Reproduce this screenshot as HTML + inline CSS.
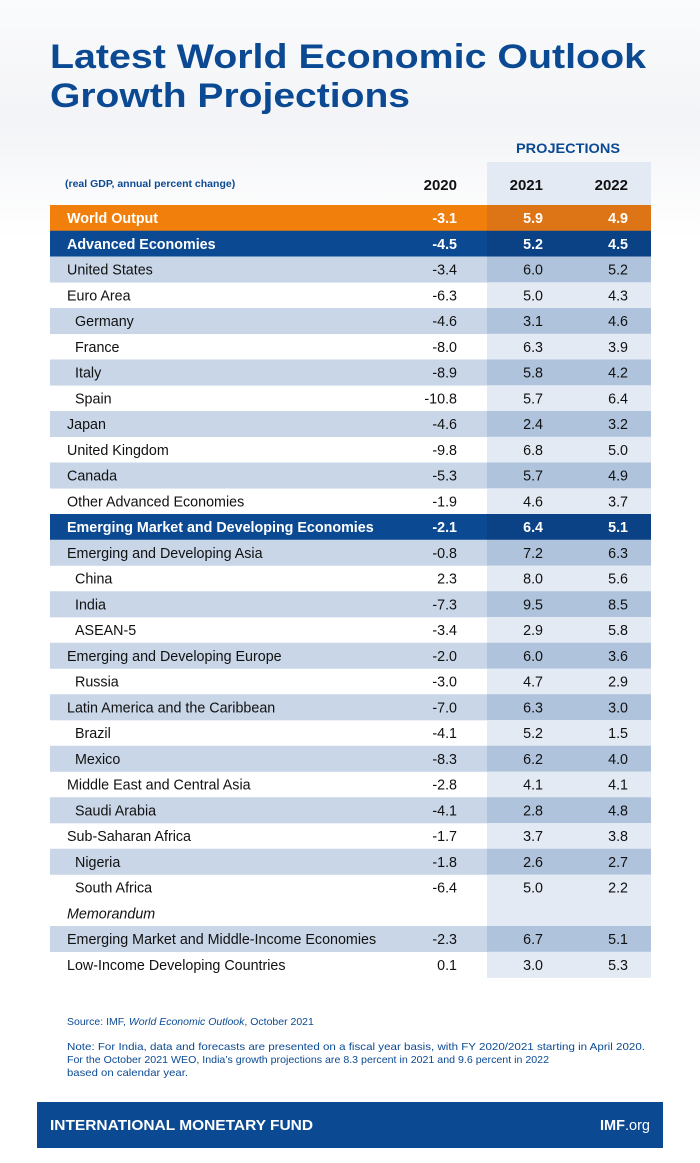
<!DOCTYPE html>
<html><head><meta charset="utf-8"><style>
html,body{margin:0;padding:0;background:#fff}
svg{display:block}
text{font-family:"Liberation Sans",Arial,sans-serif}
</style></head><body>
<svg width="700" height="1163" viewBox="0 0 700 1163" xmlns="http://www.w3.org/2000/svg">
<defs><linearGradient id="bg" x1="0" y1="0" x2="0" y2="1"><stop offset="0" stop-color="#fafbfc"/><stop offset="0.5" stop-color="#f3f4f7"/><stop offset="1" stop-color="#ffffff"/></linearGradient></defs>
<rect width="700" height="1163" fill="#fff"/>
<rect x="0" y="0" width="700" height="240" fill="url(#bg)"/>
<g fill="#0b4a93" font-weight="bold">
<text x="50" y="68" font-size="34" textLength="596" lengthAdjust="spacingAndGlyphs">Latest World Economic Outlook</text>
<text x="50" y="107" font-size="34" textLength="360" lengthAdjust="spacingAndGlyphs">Growth Projections</text>
</g>
<rect x="487" y="162" width="164" height="44" fill="#e3eaf3"/>
<text x="516" y="153" font-size="14" fill="#0b4a93" font-weight="bold" textLength="104" lengthAdjust="spacingAndGlyphs">PROJECTIONS</text>
<text x="65" y="187" font-size="10.5" fill="#0b4a93" font-weight="bold">(real GDP, annual percent change)</text>
<g font-size="15" font-weight="bold" fill="#111" text-anchor="end">
<text x="457" y="190">2020</text><text x="543" y="190">2021</text><text x="628" y="190">2022</text>
</g>
<g id="rows" font-size="14.3"></g>
<text x="67" y="1025" font-size="10.5" fill="#0b4a93">Source: IMF, <tspan font-style="italic">World Economic Outlook</tspan>, October 2021</text>
<g font-size="10.3" fill="#0b4a93">
<text x="67" y="1050" textLength="578" lengthAdjust="spacingAndGlyphs">Note: For India, data and forecasts are presented on a fiscal year basis, with FY 2020/2021 starting in April 2020.</text>
<text x="67" y="1063" textLength="482" lengthAdjust="spacingAndGlyphs">For the October 2021 WEO, India’s growth projections are 8.3 percent in 2021 and 9.6 percent in 2022</text>
<text x="67" y="1076" textLength="121" lengthAdjust="spacingAndGlyphs">based on calendar year.</text>
</g>
<rect x="37" y="1102" width="626" height="46" fill="#0b4a93"/>
<text x="50" y="1130" font-size="14.5" font-weight="bold" fill="#fff" textLength="263" lengthAdjust="spacingAndGlyphs">INTERNATIONAL MONETARY FUND</text>
<text x="650" y="1130" font-size="14.5" fill="#fff" text-anchor="end"><tspan font-weight="bold">IMF</tspan>.org</text>
</svg>
<script>
const rows=[
["World Output","-3.1","5.9","4.9","o",0],
["Advanced Economies","-4.5","5.2","4.5","n",0],
["United States","-3.4","6.0","5.2","l",0],
["Euro Area","-6.3","5.0","4.3","w",0],
["Germany","-4.6","3.1","4.6","l",1],
["France","-8.0","6.3","3.9","w",1],
["Italy","-8.9","5.8","4.2","l",1],
["Spain","-10.8","5.7","6.4","w",1],
["Japan","-4.6","2.4","3.2","l",0],
["United Kingdom","-9.8","6.8","5.0","w",0],
["Canada","-5.3","5.7","4.9","l",0],
["Other Advanced Economies","-1.9","4.6","3.7","w",0],
["Emerging Market and Developing Economies","-2.1","6.4","5.1","n",0],
["Emerging and Developing Asia","-0.8","7.2","6.3","l",0],
["China","2.3","8.0","5.6","w",1],
["India","-7.3","9.5","8.5","l",1],
["ASEAN-5","-3.4","2.9","5.8","w",1],
["Emerging and Developing Europe","-2.0","6.0","3.6","l",0],
["Russia","-3.0","4.7","2.9","w",1],
["Latin America and the Caribbean","-7.0","6.3","3.0","l",0],
["Brazil","-4.1","5.2","1.5","w",1],
["Mexico","-8.3","6.2","4.0","l",1],
["Middle East and Central Asia","-2.8","4.1","4.1","w",0],
["Saudi Arabia","-4.1","2.8","4.8","l",1],
["Sub-Saharan Africa","-1.7","3.7","3.8","w",0],
["Nigeria","-1.8","2.6","2.7","l",1],
["South Africa","-6.4","5.0","2.2","w",1],
["Memorandum","","","","w",2],
["Emerging Market and Middle-Income Economies","-2.3","6.7","5.1","l",0],
["Low-Income Developing Countries","0.1","3.0","5.3","w",0]];
const col={o:["#f07f0b","#dd7516","#fff"],n:["#0b4a93","#0a4285","#fff"],l:["#c9d6e8","#afc3dc","#111"],w:["#ffffff","#e3eaf3","#111"]};
const NS="http://www.w3.org/2000/svg";const g=document.getElementById("rows");
const h=25.75;
rows.forEach((r,i)=>{const y=205+i*h;const c=col[r[4]];
const add=(tag,at,txt)=>{const e=document.createElementNS(NS,tag);for(const k in at)e.setAttribute(k,at[k]);if(txt!==undefined)e.textContent=txt;g.appendChild(e);};
if(r[4]!=="w")add("rect",{x:50,y:y,width:437,height:h+0.3,fill:c[0]});
add("rect",{x:487,y:y,width:164,height:h+0.3,fill:c[1]});
const bold=(r[4]==="o"||r[4]==="n");
const ty=y+18;
add("text",{x:r[5]===1?75:67,y:ty,fill:c[2],"font-weight":bold?"bold":"normal","font-style":r[5]===2?"italic":"normal"},r[0]);
[[457,r[1]],[543,r[2]],[628,r[3]]].forEach(([x,v])=>{if(v)add("text",{x:x,y:ty,fill:c[2],"text-anchor":"end","font-weight":bold?"bold":"normal"},v);});
});
</script>
</body></html>
